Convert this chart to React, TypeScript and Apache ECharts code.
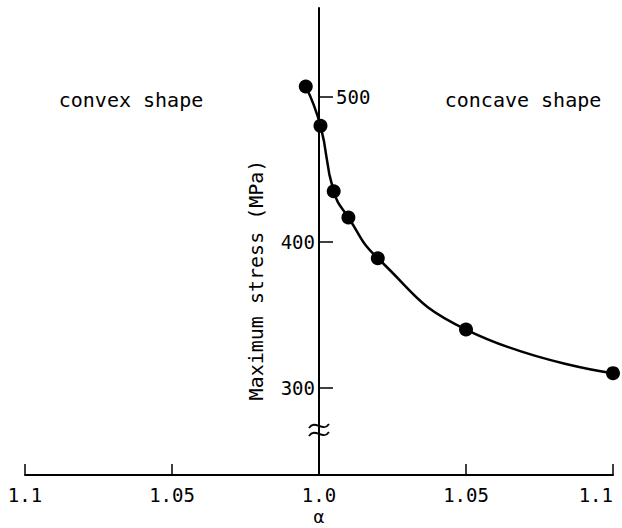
import React, { useEffect, useRef } from "react";
import * as echarts from "echarts";

// alpha expressed as signed offset from 1.0 (negative = convex side, positive = concave side)
const alphaOffsets = [-0.0045, 0.0005, 0.005, 0.01, 0.02, 0.05, 0.1];
const stressValues = [507, 480, 435, 417, 389, 340, 310];
const xTickValues = [-0.1, -0.05, 0, 0.05, 0.1];
const xTickLabels = ["1.1", "1.05", "1.0", "1.05", "1.1"];
const yTickValues = [300, 400, 500];
const yLeftLabels = [300, 400];
const yRightLabels = [500];
const regionLabels = ["convex shape", "concave shape"];
const breakValue = 271;

const FONT = "'DejaVu Sans Mono', monospace";
const GRID_LEFT = 25;
const GRID_RIGHT = 9;
const WIDTH = 622;

export default function App() {
  const ref = useRef<HTMLDivElement>(null);
  useEffect(() => {
    if (!ref.current) return;
    const chart = echarts.init(ref.current, undefined, { renderer: "svg" });
    const labelFor = (v: number) => {
      let best = 0;
      for (let i = 0; i < xTickValues.length; i++) {
        if (Math.abs(xTickValues[i] - v) < Math.abs(xTickValues[best] - v)) best = i;
      }
      return xTickLabels[best];
    };
    const halfWidth = (WIDTH - GRID_LEFT - GRID_RIGHT) / 2;
    chart.setOption({
      animation: false,
      backgroundColor: "#fff",
      grid: { left: GRID_LEFT, right: GRID_RIGHT, top: 8, bottom: 53, containLabel: false, outerBoundsMode: "none" },
      xAxis: {
        type: "value",
        min: -0.1,
        max: 0.1,
        interval: 0.05,
        name: "α",
        nameLocation: "middle",
        nameGap: 32,
        nameMoveOverlap: false,
        nameTextStyle: { fontFamily: FONT, fontSize: 18, color: "#000" },
        axisLine: { show: true, onZero: false, lineStyle: { color: "#000", width: 2 } },
        axisTick: { show: true, inside: true, length: 11, lineStyle: { color: "#000", width: 1.5 } },
        axisLabel: {
          show: true,
          margin: 10,
          showMinLabel: true,
          showMaxLabel: true,
          alignMaxLabel: "right",
          fontFamily: FONT,
          fontSize: 19,
          color: "#000",
          formatter: (v: number) => labelFor(v),
        },
        splitLine: { show: false },
      },
      yAxis: [
        {
          type: "value",
          min: 240,
          max: 561,
          position: "left",
          offset: -halfWidth,
          axisLine: { show: true, onZero: false, lineStyle: { color: "#000", width: 2 } },
          axisTick: {
            show: true,
            inside: true,
            length: 14,
            customValues: yTickValues,
            lineStyle: { color: "#000", width: 1.5 },
          },
          axisLabel: {
            show: true,
            margin: 4,
            align: "right",
            customValues: yLeftLabels,
            fontFamily: FONT,
            fontSize: 19,
            color: "#000",
          },
          splitLine: { show: false },
        },
        {
          type: "value",
          min: 240,
          max: 561,
          position: "right",
          offset: -halfWidth,
          axisLine: { show: false, onZero: false },
          axisTick: { show: false },
          axisLabel: {
            show: true,
            margin: 17,
            align: "left",
            customValues: yRightLabels,
            fontFamily: FONT,
            fontSize: 19,
            color: "#000",
          },
          splitLine: { show: false },
        },
      ],
      series: [
        {
          type: "line",
          data: alphaOffsets.map((a, i) => [a, stressValues[i]]),
          smooth: 0.5,
          symbol: "circle",
          symbolSize: 14,
          clip: false,
          lineStyle: { color: "#000", width: 2.5 },
          itemStyle: { color: "#000" },
        },
      ],
    });
    const p = chart.convertToPixel({ xAxisIndex: 0, yAxisIndex: 0 }, [0, breakValue]) as number[];
    const bx = p[0];
    const by = p[1];
    const tilde = (dy: number) => ({
      type: "bezierCurve",
      shape: {
        x1: bx - 10, y1: by + dy + 2,
        cpx1: bx - 4, cpy1: by + dy - 7,
        cpx2: bx + 4, cpy2: by + dy + 7,
        x2: bx + 10, y2: by + dy - 2,
      },
      style: { stroke: "#000", lineWidth: 1.8, fill: null },
    });
    chart.setOption({
      graphic: [
        {
          type: "text",
          x: 131,
          y: 100,
          style: { text: regionLabels[0], fontFamily: FONT, fontSize: 20, fill: "#000", align: "center", verticalAlign: "middle" },
        },
        {
          type: "text",
          x: 523,
          y: 100,
          style: { text: regionLabels[1], fontFamily: FONT, fontSize: 20, fill: "#000", align: "center", verticalAlign: "middle" },
        },
        {
          type: "text",
          x: 256,
          y: 280,
          rotation: Math.PI / 2,
          style: { text: "Maximum stress (MPa)", fontFamily: FONT, fontSize: 20, fill: "#000", align: "center", verticalAlign: "middle" },
        },
        tilde(-4),
        tilde(4),
      ],
    });
    return () => chart.dispose();
  }, []);
  return (
    <div
      ref={ref}
      style={{ position: "fixed", left: 0, top: 0, width: 622, height: 528, background: "#fff" }}
    />
  );
}
